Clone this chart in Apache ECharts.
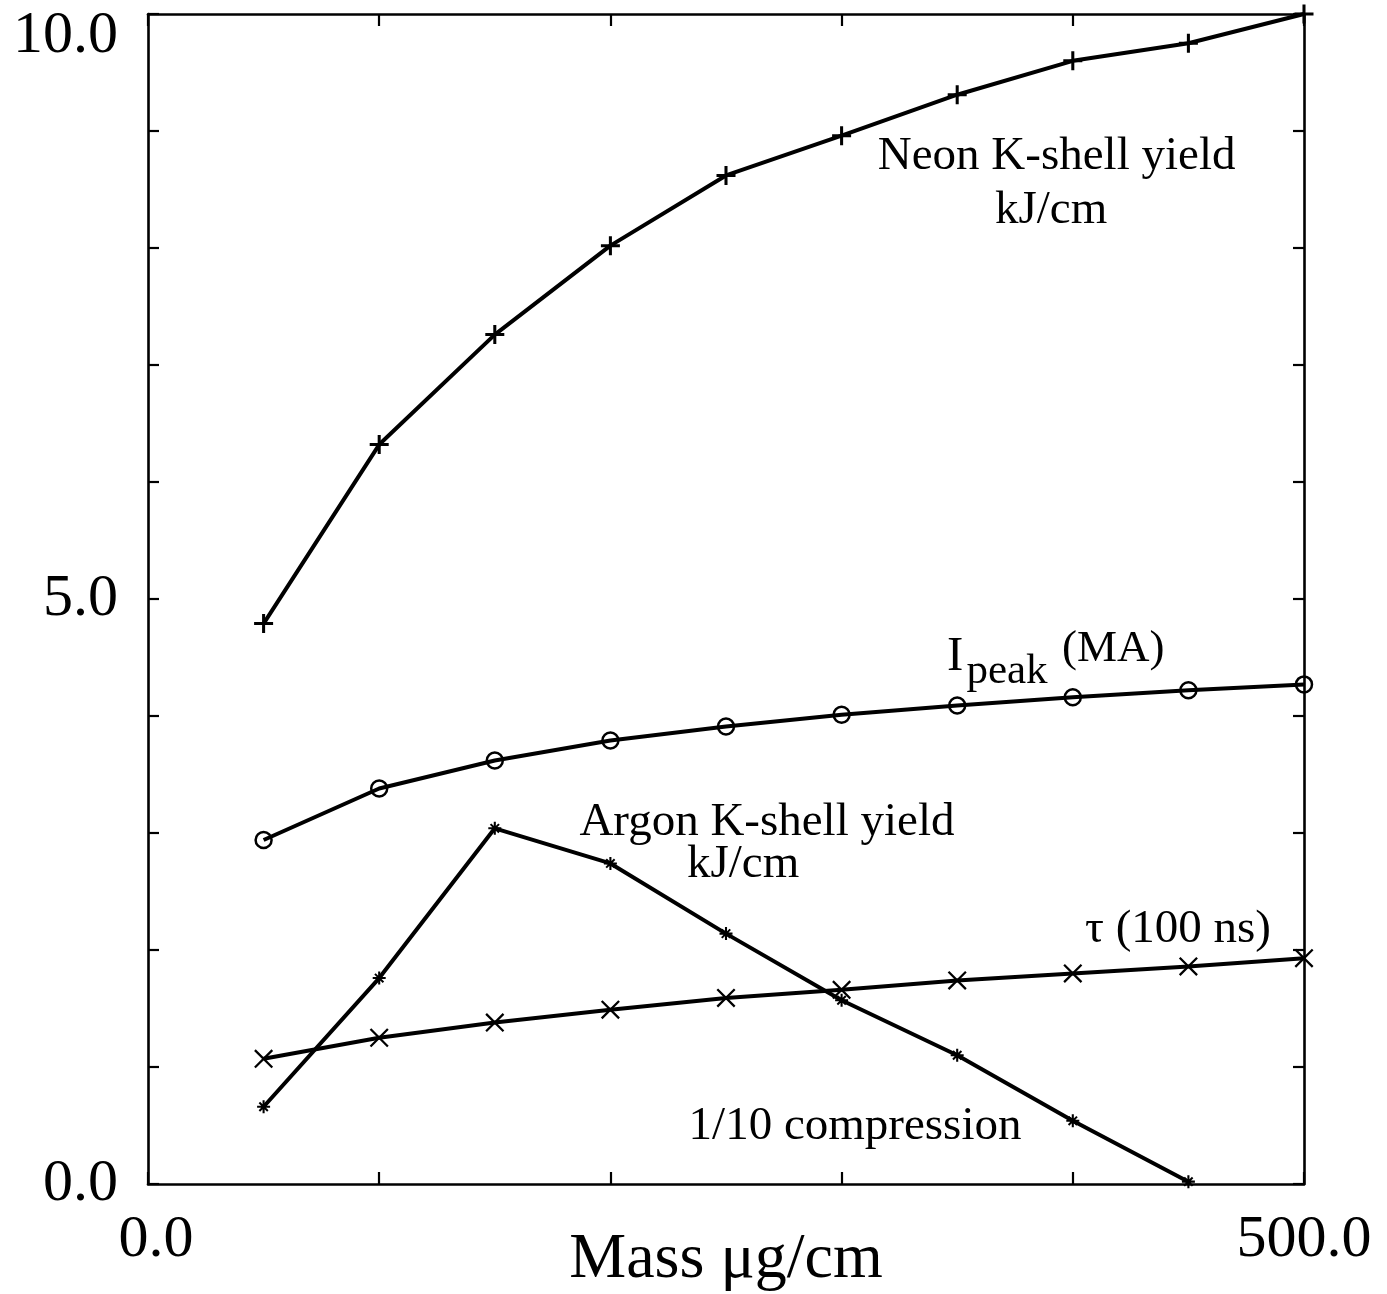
<!DOCTYPE html>
<html>
<head>
<meta charset="utf-8">
<title>Yield, peak current and implosion time vs. mass</title>
<script src="https://cdn.jsdelivr.net/npm/echarts@6/dist/echarts.min.js"></script>
<style>
  html, body { margin: 0; padding: 0; background: #fff; }
  #chart { width: 1387px; height: 1294px; }
</style>
</head>
<body>
<div id="chart"></div>
<script>
// Load mass, µg/cm
const mass = [50, 100, 150, 200, 250, 300, 350, 400, 450, 500];

// Neon K-shell yield, kJ/cm
const neonYield = [4.79, 6.32, 7.26, 8.02, 8.62, 8.96, 9.31, 9.60, 9.75, 10.0];
// Peak current, MA
const peakCurrent = [2.94, 3.38, 3.62, 3.79, 3.91, 4.01, 4.09, 4.16, 4.22, 4.27];
// Argon K-shell yield, kJ/cm (no point at 500)
const argonYield = [0.66, 1.76, 3.04, 2.74, 2.14, 1.57, 1.10, 0.54, 0.02];
// Implosion time, units of 100 ns
const implosionTime = [1.07, 1.25, 1.38, 1.49, 1.59, 1.66, 1.74, 1.80, 1.86, 1.93];

// Axis ranges and tick labels
const xRange = [0, 500];
const yRange = [0, 10];
const xTickLabels = ['0.0', '500.0'];
const yTickLabels = ['0.0', '5.0', '10.0'];

const SERIF = '"Liberation Serif", "Times New Roman", Times, serif';

// Marker glyphs (filled outlines, so they keep a fixed stroke weight)
const PLUS = 'path://M-1.6,-10h3.2v20h-3.2zM-10,-1.6h20v3.2h-20z';
const CROSS = 'path://M-10,-8.3L-8.3,-10L10,8.3L8.3,10ZM8.3,-10L10,-8.3L-8.3,10L-10,8.3Z';
const STAR = 'path://M-1.6,-10h3.2v20h-3.2zM-10,-1.6h20v3.2h-20z' +
             'M-7.6,-5.4L-5.4,-7.6L7.6,5.4L5.4,7.6ZM5.4,-7.6L7.6,-5.4L-5.4,7.6L-7.6,5.4Z';

const pairs = (xs, ys) => ys.map((v, i) => [xs[i], v]);

const lineBase = {
  type: 'line',
  showAllSymbol: true,
  animation: false,
  lineStyle: { color: '#000', width: 4 },
  emphasis: { disabled: true },
  z: 3
};

const chart = echarts.init(document.getElementById('chart'), null, { renderer: 'canvas' });

const axisLine = { show: true, onZero: false, lineStyle: { color: '#000', width: 2.6 } };
const tickIn = (len) => ({ show: true, inside: true, length: len, lineStyle: { color: '#000', width: 2.2 } });

chart.setOption({
  backgroundColor: '#fff',
  animation: false,
  grid: { left: 148, right: 83, top: 14, bottom: 110, containLabel: false, outerBoundsMode: 'none' },
  xAxis: [
    {
      type: 'value', position: 'bottom',
      min: xRange[0], max: xRange[1], interval: 100,
      axisLine: axisLine, axisTick: tickIn(12), splitLine: { show: false },
      axisLabel: {
        margin: 26, color: '#000', fontFamily: SERIF, fontSize: 60,
        formatter: (v) => (v === xRange[0] ? '{first|' + xTickLabels[0] + '}' : v === xRange[1] ? xTickLabels[1] : ''),
        rich: { first: { fontFamily: SERIF, fontSize: 60, color: '#000', padding: [0, 0, 0, 16] } }
      },
      name: 'Mass μg/cm', nameLocation: 'middle', nameGap: 44, nameMoveOverlap: false,
      nameTextStyle: { color: '#000', fontFamily: SERIF, fontSize: 64 }
    },
    {
      type: 'value', position: 'top',
      min: xRange[0], max: xRange[1], interval: 100,
      axisLine: axisLine, axisTick: tickIn(12), axisLabel: { show: false }, splitLine: { show: false }
    }
  ],
  yAxis: [
    {
      type: 'value', position: 'left',
      min: yRange[0], max: yRange[1], interval: 1,
      axisLine: axisLine, axisTick: tickIn(11), splitLine: { show: false },
      axisLabel: {
        margin: 30, color: '#000', fontFamily: SERIF, fontSize: 60,
        formatter: (v) => (v === 0 ? yTickLabels[0] : v === 5 ? yTickLabels[1] : v === 10 ? '{top|' + yTickLabels[2] + '}' : ''),
        rich: { top: { fontFamily: SERIF, fontSize: 60, color: '#000', padding: [44, 0, 0, 0] } }
      }
    },
    {
      type: 'value', position: 'right',
      min: yRange[0], max: yRange[1], interval: 1,
      axisLine: axisLine, axisTick: tickIn(11), axisLabel: { show: false }, splitLine: { show: false }
    }
  ],
  series: [
    Object.assign({}, lineBase, {
      name: 'Neon K-shell yield',
      data: pairs(mass, neonYield),
      symbol: PLUS, symbolSize: 19,
      itemStyle: { color: '#000' }
    }),
    Object.assign({}, lineBase, {
      name: 'Ipeak',
      data: pairs(mass, peakCurrent),
      symbol: 'circle', symbolSize: 16,
      itemStyle: { color: 'rgba(0,0,0,0)', borderColor: '#000', borderWidth: 2.5 }
    }),
    Object.assign({}, lineBase, {
      name: 'Argon K-shell yield',
      data: pairs(mass, argonYield),
      symbol: STAR, symbolSize: 13,
      itemStyle: { color: '#000' }
    }),
    Object.assign({}, lineBase, {
      name: 'tau',
      data: pairs(mass, implosionTime),
      symbol: CROSS, symbolSize: 19,
      itemStyle: { color: '#000' }
    })
  ]
});

// Curve captions, anchored in data coordinates
const captions = [
  { text: 'Neon K-shell yield', at: [393, 8.78], size: 47, align: 'center' },
  { text: 'kJ/cm', at: [390.6, 8.32], size: 47, align: 'center' },
  { text: 'Argon K-shell yield', at: [267.7, 3.09], size: 47, align: 'center' },
  { text: 'kJ/cm', at: [257.4, 2.73], size: 47, align: 'center' },
  { text: 'τ (100 ns)', at: [445.5, 2.17], size: 47, align: 'center' },
  { text: '1/10 compression', at: [305.8, 0.49], size: 47, align: 'center' },
  { text: 'I', at: [349.1, 4.50], size: 49, align: 'center' },
  { text: 'peak', at: [354.0, 4.38], size: 43, align: 'left' },
  { text: '(MA)', at: [395.3, 4.57], size: 45, align: 'left' }
];

chart.setOption({
  graphic: captions.map((c) => {
    const p = chart.convertToPixel({ gridIndex: 0 }, c.at);
    return {
      type: 'text', x: p[0], y: p[1], z: 10, silent: true,
      style: {
        text: c.text, fill: '#000', font: c.size + 'px ' + SERIF,
        align: c.align, verticalAlign: 'middle'
      }
    };
  })
});
</script>
</body>
</html>
